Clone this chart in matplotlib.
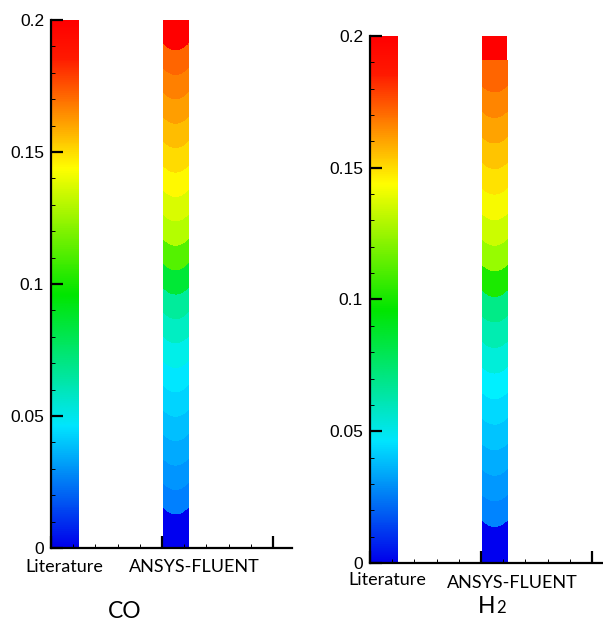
import numpy as np
import matplotlib
matplotlib.use("Agg")
import matplotlib.pyplot as plt
from matplotlib.colors import LinearSegmentedColormap
from matplotlib.ticker import MultipleLocator, FuncFormatter

# band boundaries of the simulated columns (value at the column wall)
co_levels = [0.0155, 0.0248, 0.0340, 0.0433, 0.0525, 0.0618, 0.0710, 0.0803,
             0.0895, 0.0988, 0.1080, 0.1173, 0.1265, 0.1358, 0.1450, 0.1543,
             0.1635, 0.1728, 0.1820, 0.1913]
h2_levels = [0.0163, 0.0260, 0.0357, 0.0454, 0.0551, 0.0648, 0.0745, 0.0842,
             0.0939, 0.1036, 0.1133, 0.1230, 0.1327, 0.1424, 0.1521, 0.1618,
             0.1715, 0.1812, 0.1909]
column_labels = ["Literature", "ANSYS-FLUENT"]
y_max = 0.2

lit_cmap = LinearSegmentedColormap.from_list("lit", [
    (0.00, "#0000eb"), (0.23, "#00e6ff"), (0.48, "#00e600"),
    (0.72, "#ffff00"), (0.93, "#ff1a00"), (1.00, "#ff0000")])
band_cmap = LinearSegmentedColormap.from_list("band", [
    (0.00, "#0000f0"), (0.08, "#0078ff"), (0.35, "#00f0ff"),
    (0.50, "#00eb82"), (0.53, "#00e600"), (0.60, "#aaff00"),
    (0.70, "#fffa00"), (0.95, "#ff5a00"), (1.00, "#ff0000")])

fig = plt.figure(figsize=(6.03, 6.22), dpi=100)


def fmt(v, pos):
    return "%g" % round(v, 3)


def draw_panel(ax, levels, xmax, sag, flat_top):
    # literature profile: smooth gradient
    yy = np.linspace(0, y_max, 500)[:, None]
    ax.imshow(yy, extent=(0, 0.25, 0, y_max), origin="lower", cmap=lit_cmap,
              vmin=0, vmax=y_max, aspect="auto", interpolation="bilinear", zorder=1)

    # fluent result: banded contours, slightly sagging in the middle
    x0, x1 = 1.01, 1.235
    X, Y = np.meshgrid(np.linspace(x0, x1, 80), np.linspace(0, y_max, 800))
    u = (X - (x0 + x1) / 2) / ((x1 - x0) / 2)
    taper = np.clip((flat_top - Y) / 0.008, 0, 1) if flat_top else 1.0
    F = Y + sag * (1 - u ** 2) * taper
    bounds = [-1.0] + list(levels) + [1.0]
    reps = [0.0] + [(a + b) / 2 for a, b in zip(levels[:-1], levels[1:])] + [y_max]
    colors = [band_cmap(v / y_max) for v in reps]
    ax.contourf(X, Y, F, levels=bounds, colors=colors, zorder=1)

    ax.set_xlim(0, xmax)
    ax.set_ylim(0, y_max)
    for s in ["top", "right"]:
        ax.spines[s].set_visible(False)
    for s in ["left", "bottom"]:
        ax.spines[s].set_linewidth(1.6)
    ax.set_xticks([0, 1, 2])
    ax.set_xticklabels([])
    ax.xaxis.set_minor_locator(MultipleLocator(0.2))
    ax.yaxis.set_major_locator(MultipleLocator(0.05))
    ax.yaxis.set_minor_locator(MultipleLocator(0.01))
    ax.yaxis.set_major_formatter(FuncFormatter(fmt))
    ax.tick_params(which="major", direction="in", length=8.5, width=1.6,
                   labelsize=12.5, pad=5)
    ax.tick_params(which="minor", direction="in", length=3, width=0.7)
    for lab in ax.get_yticklabels():
        lab.set_fontfamily("Liberation Sans")


# CO panel
ax1 = fig.add_axes([51 / 603, 74 / 622, 241 / 603, 528 / 622])
draw_panel(ax1, co_levels, 241 / 111, 0.0026, None)
tr1 = ax1.get_xaxis_transform()
ax1.text(0.117, -0.0455, column_labels[0], transform=tr1, ha="center",
         va="baseline", fontsize=13, family="Lato")
ax1.text(1.29, -0.0455, column_labels[1], transform=tr1, ha="center",
         va="baseline", fontsize=13, family="Lato")
ax1.text(0.66, -0.1326, "CO", transform=tr1, ha="center", va="baseline",
         fontsize=16.5, family="Lato")

# H2 panel
ax2 = fig.add_axes([370 / 603, 59 / 622, 233 / 603, 527 / 622])
draw_panel(ax2, h2_levels, 233 / 111, 0.0024, 0.189)
tr2 = ax2.get_xaxis_transform()
ax2.text(0.153, -0.0417, column_labels[0], transform=tr2, ha="center",
         va="baseline", fontsize=13, family="Lato")
ax2.text(1.28, -0.0474, column_labels[1], transform=tr2, ha="center",
         va="baseline", fontsize=13, family="Lato")
ax2.text(0.97, -0.0949, "H", transform=tr2, ha="left", va="baseline",
         fontsize=16.5, family="Lato")
ax2.text(1.14, -0.0949, "2", transform=tr2, ha="left", va="baseline",
         fontsize=12, family="Lato")

fig.savefig("out.png", dpi=100)
